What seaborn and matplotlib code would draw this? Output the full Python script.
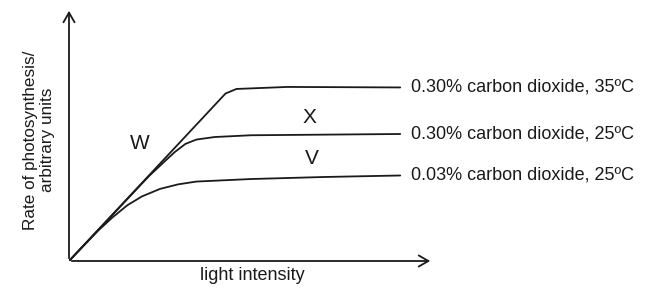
import numpy as np
import pandas as pd
import matplotlib
matplotlib.use("Agg")
import matplotlib.pyplot as plt
import seaborn as sns

# curves (arbitrary units, 0-100 on both axes)
light_35 = [0, 43, 46, 60, 91]
rate_35 = [0, 66.2, 68.0, 68.8, 68.6]

light_high = [0, 22, 26, 29, 32, 35, 40, 50, 91]
rate_high = [0, 33.6, 39.0, 43.0, 46.3, 48.0, 49.0, 49.7, 50.2]

light_low = [0, 8, 12, 16, 20, 25, 30, 35, 50, 70, 91]
rate_low = [0, 12.0, 17.3, 22.0, 25.5, 28.5, 30.3, 31.4, 32.4, 33.2, 33.8]

curve_labels = ["0.30% carbon dioxide, 35ºC",
                "0.30% carbon dioxide, 25ºC",
                "0.03% carbon dioxide, 25ºC"]
letters = ["W", "X", "V"]
letter_x = [19.5, 66.2, 66.8]
letter_y = [46.6, 56.9, 40.7]

sns.set_style("white")
plt.rcParams['font.family'] = ['Liberation Sans', 'DejaVu Sans']

fig = plt.figure(figsize=(6.48, 2.9), dpi=100)
ax = fig.add_axes([69 / 648, 29 / 290, 364 / 648, 253 / 290])

series = [(light_35, rate_35), (light_high, rate_high), (light_low, rate_low)]
for (xs, ys), lab in zip(series, curve_labels):
    df = pd.DataFrame({"light": xs, "rate": ys})
    sns.lineplot(data=df, x="light", y="rate", ax=ax, color="#1a1a1a",
                 linewidth=1.3, sort=False)
    ax.text(xs[-1] + 3, ys[-1], lab, fontsize=13, va="center", ha="left",
            color="#1a1a1a", clip_on=False)

for s, lx, ly in zip(letters, letter_x, letter_y):
    ax.text(lx, ly, s, fontsize=15, ha="center", va="center", color="#1a1a1a")

ax.set_xlim(0, 100)
ax.set_ylim(0, 100)
ax.set_xticks([])
ax.set_yticks([])
for sp in ax.spines.values():
    sp.set_visible(False)

# axes drawn as arrows
arrow = dict(arrowstyle="->,head_length=0.7,head_width=0.4", color="#1a1a1a", lw=1.3)
ax.annotate("", xy=(1, 0), xytext=(0, 0), xycoords="axes fraction", arrowprops=arrow)
ax.annotate("", xy=(0, 1), xytext=(0, 0), xycoords="axes fraction", arrowprops=arrow)

ax.set_xlabel("")
ax.set_ylabel("")
fig.text(252 / 648, 1 - 276 / 290, "light intensity", fontsize=13, ha="center",
         va="center", color="#1a1a1a")
fig.text(39 / 648, 1 - 140 / 290, "Rate of photosynthesis/\narbitrary units",
         fontsize=12.3, rotation=90, ha="center", va="center",
         multialignment="center", color="#1a1a1a", linespacing=1.15)

fig.savefig("out.png", dpi=100, facecolor="white")
